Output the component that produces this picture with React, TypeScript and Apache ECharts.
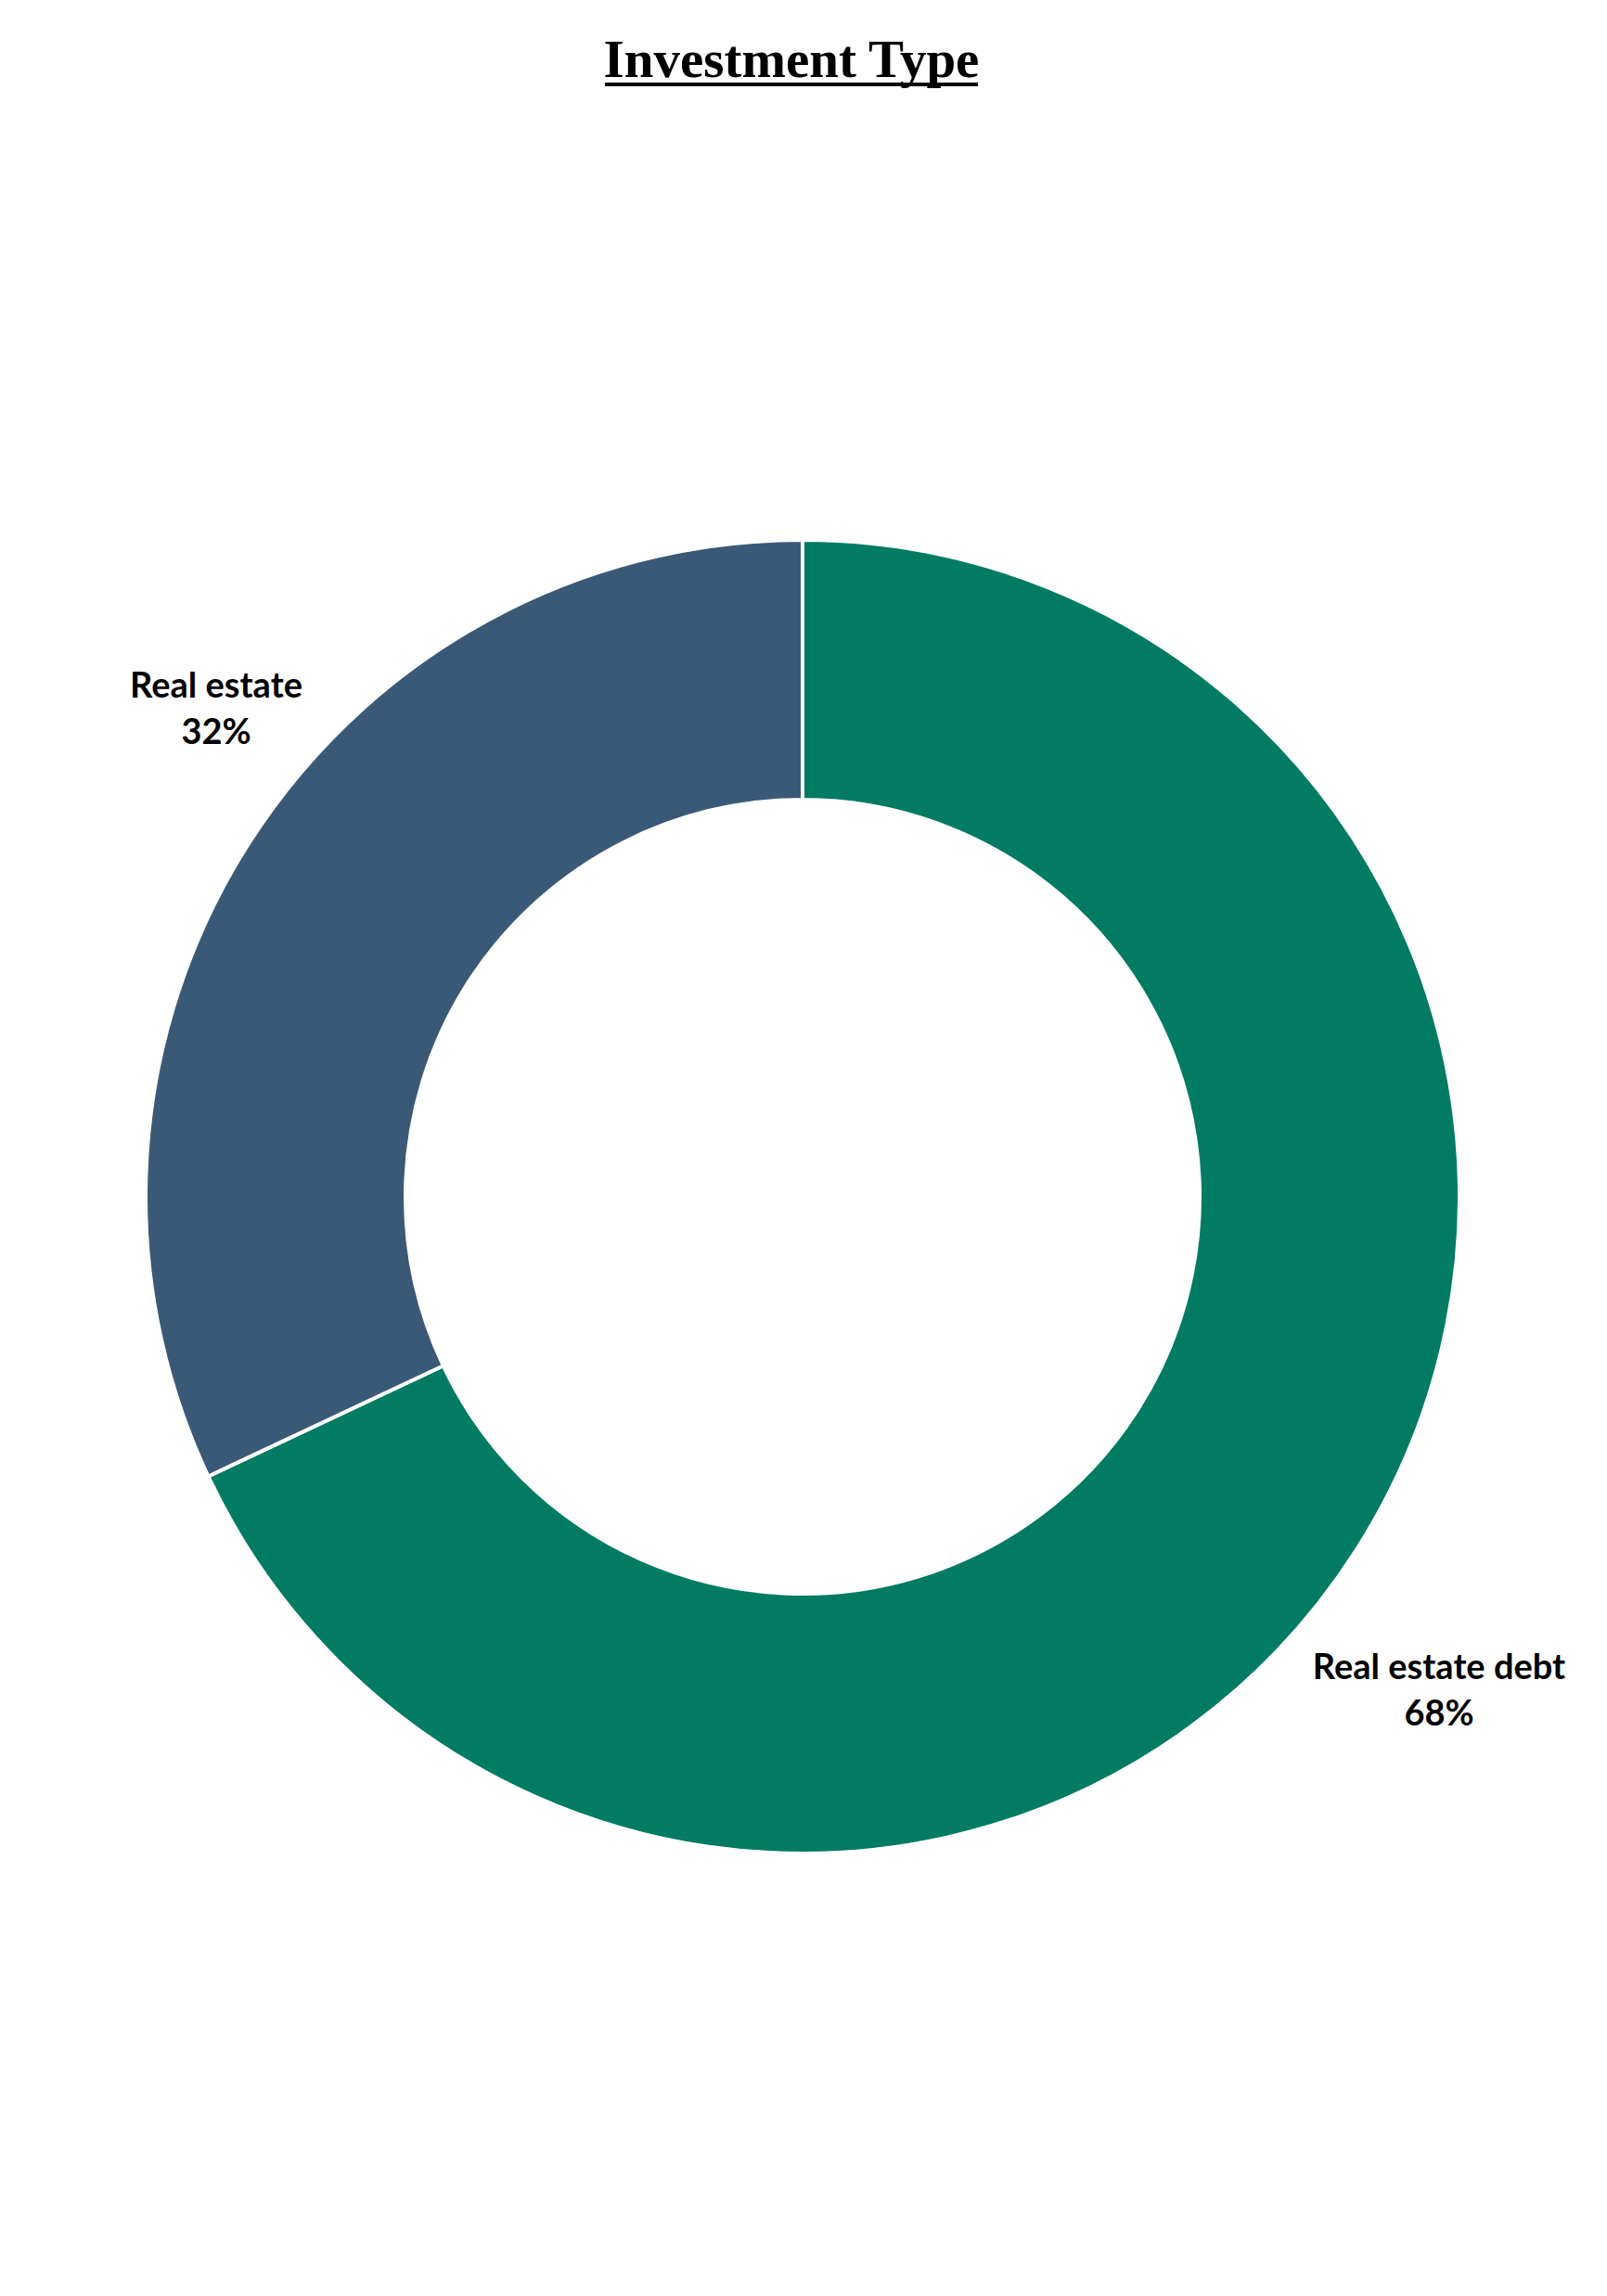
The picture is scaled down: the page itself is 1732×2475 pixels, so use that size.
import React, { useEffect, useRef } from "react";
import * as echarts from "echarts";

const categories = ["Real estate debt", "Real estate"];
const values = [68, 32];
const colors = ["#027B63", "#3A5977"];
const titleText = "Investment Type";
// label anchor positions (layout only)
const labelPos = [
  [1551, 1820],
  [233, 762],
];

export default function App() {
  const ref = useRef<HTMLDivElement>(null);
  useEffect(() => {
    document.body.style.margin = "0";
    const chart = echarts.init(ref.current!, undefined, { renderer: "svg" });
    chart.setOption({
      animation: false,
      backgroundColor: "#ffffff",
      graphic: [
        {
          type: "text",
          x: 853,
          y: 92,
          style: {
            text: titleText,
            font: "bold 57px 'Liberation Serif', serif",
            fill: "#000",
            align: "center",
            verticalAlign: "bottom",
          },
        },
        {
          type: "rect",
          shape: { x: 652, y: 89, width: 402, height: 4 },
          style: { fill: "#000" },
        },
      ],
      series: [
        {
          type: "pie",
          center: [865, 1290],
          radius: [428, 708],
          startAngle: 90,
          clockwise: true,
          data: categories.map((c, i) => ({
            name: c,
            value: values[i],
            itemStyle: { color: colors[i] },
          })),
          itemStyle: { borderColor: "#ffffff", borderWidth: 4 },
          label: {
            show: true,
            position: "outside",
            formatter: "{b}\n{c}%",
            fontFamily: "Lato",
            fontWeight: "bold",
            fontSize: 38,
            lineHeight: 50,
            color: "#000",
            align: "center",
            overflow: "none",
            edgeDistance: 0,
          },
          labelLine: { show: false },
          labelLayout: (params: any) => ({
            x: labelPos[params.dataIndex][0],
            y: labelPos[params.dataIndex][1],
            align: "center",
            verticalAlign: "middle",
            width: 600,
          }),
          emphasis: { disabled: true },
        },
      ],
    });
    return () => chart.dispose();
  }, []);
  return <div ref={ref} style={{ width: 1732, height: 2475 }} />;
}
